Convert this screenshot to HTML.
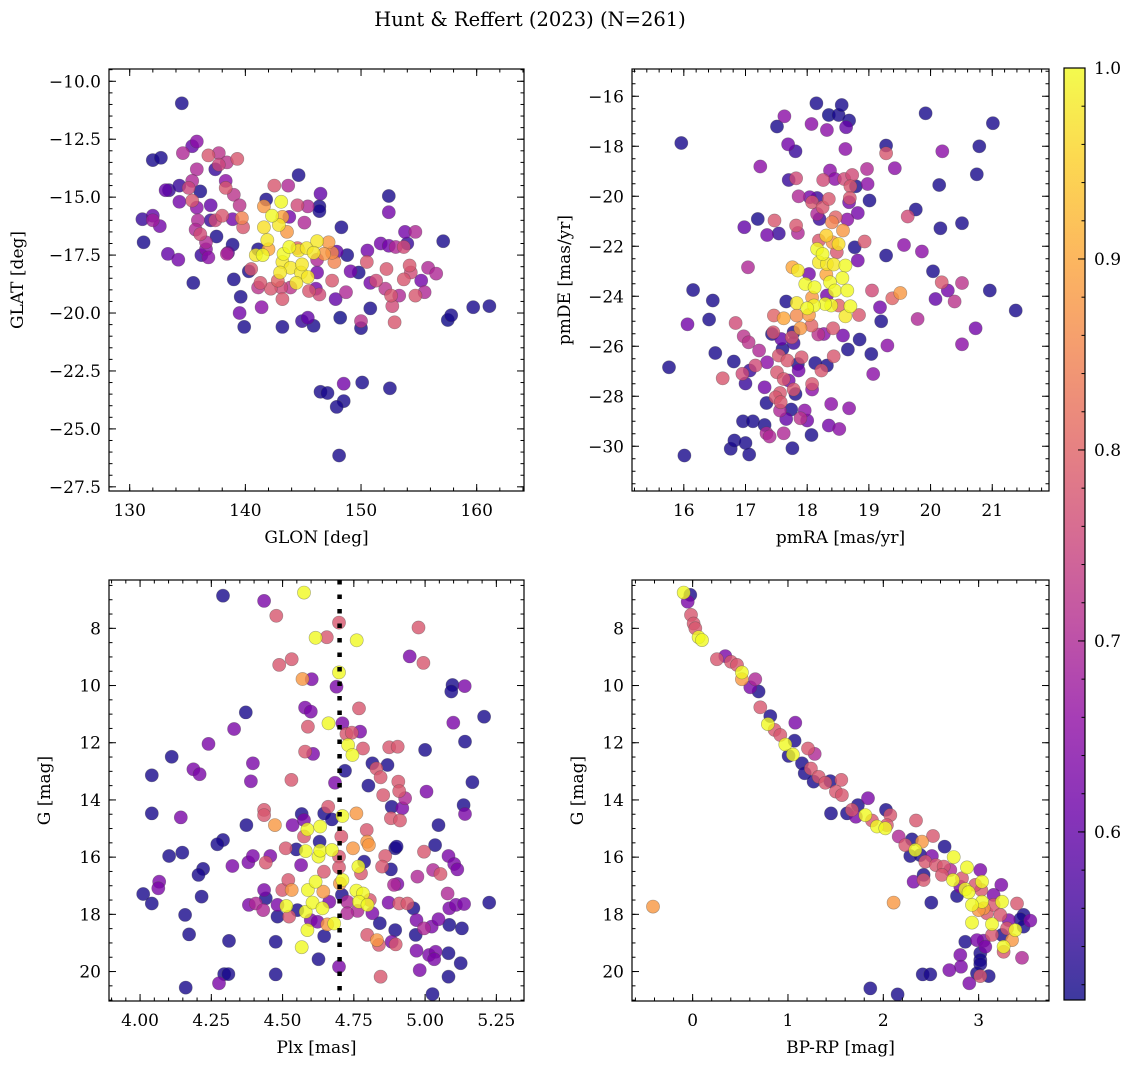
<!DOCTYPE html>
<html><head><meta charset="utf-8"><title>Hunt & Reffert (2023)</title>
<style>
html,body{margin:0;padding:0;background:#fff;}
svg{display:block;font-family:"DejaVu Serif","Liberation Serif",serif;}
</style></head>
<body>
<svg id="fig" width="1136" height="1068" viewBox="0 0 1136 1068" xmlns="http://www.w3.org/2000/svg">
<defs>
<linearGradient id="plasma" x1="0" y1="1" x2="0" y2="0">
<stop offset="0" stop-color="#0d0887"/><stop offset="0.1" stop-color="#41049d"/><stop offset="0.2" stop-color="#6a00a8"/><stop offset="0.3" stop-color="#8f0da4"/><stop offset="0.4" stop-color="#b12a90"/><stop offset="0.5" stop-color="#cc4778"/><stop offset="0.6" stop-color="#e16462"/><stop offset="0.7" stop-color="#f2844b"/><stop offset="0.8" stop-color="#fca636"/><stop offset="0.9" stop-color="#fcce25"/><stop offset="1" stop-color="#f0f921"/>
</linearGradient>
</defs>
<text x="530" y="26" font-size="19.5" text-anchor="middle" fill="#000">Hunt &amp; Reffert (2023) (N=261)</text>
</svg>
<script>
// ---- Panel 1: GLON vs GLAT ----
const glon = [134.5,135.8,135.4,134.6,132.0,132.7,136.8,137.7,137.7,138.4,139.3,135.8,137.4,144.6,135.4,138.3,142.5,143.7,133.1,133.4,134.3,135.1,136.1,138.3,139.0,146.5,152.4,134.3,135.4,137.0,139.5,141.8,143.1,141.6,144.5,145.4,146.4,146.4,152.4,131.1,132.0,132.0,132.6,135.8,135.9,137.0,138.0,137.4,138.9,139.7,139.8,142.3,142.9,143.2,141.6,143.6,143.8,145.1,148.3,135.7,136.1,137.5,136.6,136.6,136.2,136.8,131.2,133.3,134.2,135.5,138.4,138.9,138.5,141.9,142.0,141.1,140.9,141.5,143.3,143.8,144.5,144.6,145.3,146.2,145.9,147.2,147.5,147.9,147.7,148.8,146.8,146.2,150.55,150.5,151.7,152.4,153.0,153.7,154.0,153.8,154.7,157.1,143.2,143.9,143.0,144.8,144.9,145.4,144.4,142.8,143.1,142.2,141.3,140.5,140.3,141.1,143.2,143.9,139.0,139.6,139.5,141.4,139.9,143.2,144.9,145.4,145.9,145.5,146.4,146.1,146.2,147.5,147.8,148.7,148.2,149.1,149.8,150.8,151.3,152.2,152.1,152.6,152.7,153.3,150.8,150.0,150.0,152.9,154.2,154.3,153.7,155.2,155.8,156.5,154.7,155.5,157.5,157.8,159.7,161.1,146.5,147.1,148.5,150.1,152.5,148.5,147.9,148.1];
const glat = [-10.95,-12.6,-12.8,-13.1,-13.4,-13.3,-13.2,-13.1,-13.6,-13.5,-13.35,-13.8,-13.8,-14.05,-14.3,-14.3,-14.5,-14.5,-14.7,-14.7,-14.5,-14.6,-14.75,-14.6,-14.9,-14.85,-14.95,-15.2,-15.15,-15.35,-15.35,-15.1,-15.2,-15.4,-15.35,-15.4,-15.4,-15.6,-15.65,-15.95,-15.8,-16.0,-16.25,-15.45,-16.0,-16.0,-15.8,-16.0,-15.95,-15.9,-16.3,-15.8,-16.2,-15.85,-16.3,-16.5,-15.85,-16.1,-16.3,-16.4,-16.6,-16.7,-16.95,-17.25,-17.5,-17.6,-16.95,-17.45,-17.7,-18.7,-17.45,-17.05,-17.4,-16.85,-17.25,-17.25,-17.5,-17.5,-17.45,-17.15,-17.2,-17.3,-17.2,-16.9,-17.4,-16.95,-17.4,-17.35,-17.8,-17.5,-17.45,-17.7,-17.3,-17.8,-17.0,-17.1,-17.15,-17.15,-17.0,-16.5,-16.5,-16.9,-17.8,-18.05,-18.25,-18.25,-17.9,-18.45,-18.7,-18.6,-18.9,-18.95,-18.7,-18.1,-18.2,-18.9,-19.4,-18.9,-18.55,-19.3,-20.0,-19.75,-20.6,-20.6,-20.35,-20.2,-20.55,-19.05,-19.2,-18.95,-18.25,-18.6,-19.4,-19.1,-20.2,-18.2,-18.25,-18.7,-18.6,-18.1,-18.95,-19.25,-19.7,-19.25,-19.8,-20.35,-20.65,-20.4,-17.95,-18.25,-18.55,-18.6,-18.05,-18.3,-19.25,-19.1,-20.3,-20.1,-19.75,-19.7,-23.4,-23.45,-23.05,-23.0,-23.25,-23.8,-24.05,-26.15];
const prob1 = [.52,.65,.6,.7,.52,.52,.78,.72,.75,.72,.78,.7,.55,.52,.7,.65,.78,.7,.6,.55,.55,.75,.52,.78,.72,.6,.52,.62,.78,.6,.72,.52,1.0,.88,.76,.7,.52,.52,.62,.55,.6,.68,.62,.65,.7,.55,.78,.76,.62,.85,.78,1.0,.98,.9,.97,.88,.62,.7,.52,.7,.76,.52,.7,.65,.55,.65,.52,.6,.62,.52,.7,.52,.6,.98,.9,.52,.98,1.0,1.0,1.0,.8,.98,.98,.98,.98,.88,.86,.6,.85,.52,.88,.7,.62,.78,.62,.62,.7,.76,.55,.62,.7,.52,.98,.98,.98,.98,.98,.98,.98,.8,.76,.78,.78,.78,.52,.72,.78,.72,.52,.52,.62,.65,.52,.52,.55,.6,.52,.78,.76,.62,.62,.78,.6,.7,.5,.62,.52,.62,.76,.78,.72,.78,.76,.7,.52,.72,.52,.78,.78,.76,.78,.62,.7,.7,.78,.7,.5,.52,.52,.52,.52,.52,.62,.52,.52,.52,.52,.52];

// ---- Panel 2: pmRA vs pmDE ----
const pmra = [15.96,16.01,15.76,16.15,16.06,16.47,16.41,16.51,16.63,16.81,16.84,16.76,16.82,17.0,17.06,16.96,17.12,17.0,16.95,17.07,17.16,16.97,17.05,17.22,17.31,17.34,17.31,17.34,17.39,17.04,16.98,17.24,17.2,17.35,17.47,17.54,17.7,17.82,17.69,17.81,17.51,17.63,18.07,18.15,18.32,18.35,18.51,18.56,18.68,18.63,18.62,19.28,19.28,19.92,20.19,20.79,21.01,20.75,20.14,19.42,18.97,18.98,19.01,18.37,18.26,18.45,18.6,18.73,18.7,18.79,17.86,18.04,18.16,18.08,18.25,18.35,18.69,18.68,18.16,18.2,18.46,18.4,18.65,18.82,18.58,17.82,17.85,18.31,18.51,18.41,18.19,18.48,18.16,18.25,18.19,18.32,18.43,18.62,18.31,18.57,17.76,17.85,18.03,17.97,18.12,18.37,18.45,18.65,18.32,18.77,18.82,18.93,19.28,19.57,19.86,19.76,19.63,20.16,20.51,20.04,20.18,20.28,20.08,20.51,20.39,20.96,21.38,20.73,20.51,19.79,19.51,19.38,19.05,19.18,19.2,19.3,19.07,19.04,18.85,18.66,18.58,18.84,18.7,18.62,18.51,18.39,18.29,18.11,18.0,17.83,17.66,18.08,18.03,17.83,17.62,17.46,17.89,18.07,18.42,18.18,18.27,17.78,17.75,17.78,17.43,17.45,17.58,17.6,17.54,17.35,17.68,17.91,17.85,17.86,18.13,18.32,18.23,18.43,17.51,17.62,17.7,17.78,17.81,18.08,18.08,17.56,17.49,17.57,17.56,17.74,17.96,17.66,17.89,18.0,18.39,18.68,18.35,18.52,18.07,17.62,17.76];
const pmde = [-17.87,-30.37,-26.84,-23.75,-25.12,-24.17,-24.93,-26.27,-27.28,-26.61,-25.07,-30.1,-29.77,-29.87,-30.33,-29.0,-29.0,-27.49,-27.1,-26.97,-26.77,-25.6,-25.84,-26.17,-27.64,-28.27,-29.15,-29.48,-29.61,-22.84,-21.24,-18.81,-20.91,-21.55,-20.97,-21.49,-19.35,-19.28,-17.92,-18.2,-17.21,-16.8,-17.11,-16.28,-17.35,-16.75,-16.75,-16.35,-16.97,-17.24,-18.11,-17.97,-18.28,-16.68,-18.2,-18.0,-17.08,-19.12,-19.55,-18.88,-18.91,-19.51,-20.17,-18.97,-19.35,-19.31,-19.31,-19.15,-19.6,-19.6,-20.0,-20.04,-20.07,-20.24,-20.44,-20.11,-20.07,-20.24,-20.71,-20.91,-20.84,-21.04,-20.93,-20.67,-21.37,-21.17,-21.47,-21.57,-21.91,-21.84,-21.77,-22.24,-22.11,-22.31,-22.64,-22.71,-22.73,-22.77,-23.13,-23.27,-22.84,-22.97,-23.11,-23.51,-23.64,-23.44,-23.77,-23.77,-23.97,-22.04,-22.57,-21.81,-22.37,-21.95,-22.21,-20.53,-20.81,-21.28,-21.08,-23.0,-23.44,-23.77,-24.11,-23.47,-24.21,-23.77,-24.57,-25.28,-25.92,-24.91,-23.87,-24.08,-23.77,-24.44,-25.0,-25.97,-27.11,-26.31,-25.73,-26.13,-25.57,-24.75,-24.4,-24.8,-24.37,-24.37,-24.31,-24.37,-24.48,-24.27,-24.21,-24.05,-24.75,-24.77,-24.88,-24.77,-25.28,-25.17,-25.28,-25.53,-25.51,-25.44,-25.64,-25.87,-25.51,-25.44,-25.71,-26.11,-26.37,-26.64,-26.57,-26.44,-26.71,-26.97,-26.67,-26.77,-26.97,-26.4,-27.04,-27.31,-27.37,-27.73,-27.91,-27.51,-27.73,-27.87,-28.04,-28.24,-28.57,-28.53,-28.57,-28.91,-28.88,-28.97,-28.31,-28.48,-29.17,-29.31,-29.55,-29.48,-30.08];
const prob2 = [.52,.52,.52,.52,.62,.52,.52,.52,.78,.52,.76,.52,.52,.52,.52,.52,.52,.55,.76,.55,.76,.72,.72,.7,.62,.52,.52,.7,.7,.7,.6,.65,.52,.62,.78,.55,.55,.76,.62,.55,.52,.65,.65,.52,.65,.5,.52,.52,.52,.6,.65,.52,.78,.52,.65,.52,.52,.52,.52,.65,.7,.65,.52,.65,.76,.65,.76,.76,.78,.52,.7,.62,.55,.78,.78,.78,.78,.62,.7,.55,.8,.85,.65,.62,.88,.78,.7,.95,.97,.88,.78,.78,1,1,.98,.98,.98,1,.9,1,.9,.98,.62,1,1,1,1,1,.62,.52,.62,.78,.52,.65,.65,.52,.76,.52,.52,.52,.78,.62,.6,.72,.72,.52,.52,.62,.65,.7,.88,.8,.76,.62,.52,.65,.65,.52,.52,.52,.62,.78,1,.98,.8,1,1,1,1,.98,.52,.88,.88,.86,.9,.8,.88,.8,.78,.72,.65,.52,.78,.55,.52,.78,.6,.52,.78,.65,.78,.78,.52,.62,.52,.52,.78,.78,.78,.78,.62,.78,.52,.78,.65,.78,.78,.78,.7,.52,.65,.6,.72,.62,.65,.65,.62,.65,.52,.7,.52];

// ---- Panel 3: Plx vs G ----
const plx = [4.291,4.435,4.478,4.575,4.698,4.616,4.655,4.76,4.977,4.946,4.994,4.488,4.532,4.698,4.57,4.602,4.689,5.096,5.139,5.092,4.371,4.579,4.599,4.768,5.207,4.33,4.589,4.661,4.71,4.724,4.743,4.772,5.099,4.24,4.73,4.782,4.745,4.579,4.607,4.874,4.904,5.0,5.14,4.111,4.396,4.187,4.209,4.041,4.531,4.389,4.719,4.684,4.815,4.868,4.829,4.844,4.801,4.853,4.906,4.909,4.93,5.005,5.166,4.041,4.143,4.373,4.435,4.435,4.473,4.535,4.567,4.575,4.587,4.632,4.646,4.66,4.673,4.71,4.759,4.795,4.883,4.92,4.88,4.912,5.047,5.135,5.14,4.291,4.271,4.102,4.148,4.221,4.205,4.324,4.38,4.396,4.441,4.457,4.511,4.548,4.575,4.581,4.63,4.626,4.632,4.673,4.698,4.706,4.747,4.797,4.803,4.786,4.766,4.775,4.565,4.645,4.698,4.86,4.849,4.895,4.9,4.88,4.996,5.035,5.082,5.102,5.113,5.028,5.054,4.973,4.903,4.891,4.067,4.064,4.011,4.041,4.216,4.158,4.172,4.312,4.295,4.31,4.277,4.16,4.476,4.476,4.382,4.406,4.432,4.435,4.441,4.482,4.482,4.499,4.52,4.532,4.523,4.513,4.552,4.581,4.589,4.616,4.605,4.643,4.64,4.664,4.587,4.567,4.599,4.623,4.657,4.681,4.646,4.626,4.698,4.71,4.701,4.708,4.727,4.759,4.782,4.768,4.798,4.806,4.815,4.797,4.831,4.838,4.763,4.727,4.841,4.872,4.909,4.938,4.959,4.97,4.967,4.996,5.023,5.047,5.085,5.085,5.079,5.108,5.137,5.129,5.225,4.895,4.883,4.897,4.97,5.014,5.037,5.032,5.082,5.125,4.981,5.082,4.844,5.026];
const gmag3 = [6.86,7.04,7.56,6.75,7.8,8.33,8.31,8.42,7.97,8.98,9.21,9.28,9.08,9.54,9.77,9.78,10.04,9.98,10.02,10.21,10.94,10.77,10.91,10.8,11.09,11.52,11.44,11.32,11.32,11.69,11.65,11.61,11.3,12.04,12.08,12.2,12.43,12.31,12.39,12.16,12.14,12.25,11.96,12.49,12.72,12.93,13.1,13.14,13.3,13.35,12.98,13.4,12.72,12.78,12.9,13.21,13.5,13.83,13.36,13.69,13.94,13.71,13.38,14.47,14.61,14.88,14.35,14.53,14.88,14.88,14.49,14.7,15.03,14.93,14.47,14.24,14.68,14.56,14.47,15.05,14.24,14.29,14.64,14.72,14.88,14.18,14.49,15.4,15.55,15.96,15.84,16.41,16.62,16.31,16.18,15.96,16.19,15.96,15.69,15.73,15.28,15.79,15.46,15.98,15.77,15.75,15.98,15.28,15.69,15.46,15.58,16.16,16.33,16.57,16.28,16.51,16.36,15.96,16.33,15.69,15.63,16.43,15.81,15.58,15.96,16.24,16.43,16.45,16.59,16.68,16.94,16.97,16.86,17.09,17.29,17.62,17.38,18.02,18.7,18.93,20.09,20.09,20.41,20.56,20.1,18.96,17.67,17.62,17.85,17.15,17.44,17.67,18.08,17.15,16.8,17.15,18.08,17.71,17.85,17.91,17.15,16.86,17.59,17.21,17.79,17.56,18.55,19.15,18.2,18.26,18.35,18.32,18.76,19.57,19.83,16.8,16.92,17.32,17.56,17.17,17.27,17.56,17.67,17.5,17.96,18.72,18.9,19.07,17.88,17.96,18.31,17.59,17.62,17.62,17.79,18.2,18.72,18.49,18.43,18.17,18.37,17.79,17.27,17.67,17.64,18.49,17.59,18.55,18.96,19.05,19.27,19.42,19.31,19.57,19.36,19.71,19.95,20.18,20.18,20.79];
const prob3 = [.52,.63,.78,1,.78,1,.78,1,.78,.63,.78,.78,.78,1,.88,.63,.63,.52,.63,.52,.52,.63,.63,.78,.52,.63,.78,1,.63,.78,.78,.63,.63,.63,1,.78,1,.78,.63,.78,.78,.52,.52,.52,.63,.63,.63,.52,.78,.63,.52,.63,.52,.52,.78,.78,.52,.78,.78,.78,.7,.63,.52,.52,.63,.52,.78,.78,.88,.63,.52,.63,1,1,.52,.78,.52,1,.88,.78,.52,.63,.78,.78,.52,.52,.63,.52,.52,.52,.52,.52,.52,.63,.63,.63,.78,.63,.78,.52,.78,1,.52,1,1,1,.78,.78,.88,.88,.88,.52,1,.78,.63,.78,.78,.78,.78,.52,.52,.52,.78,.52,.63,.63,.63,.7,.78,.7,.63,.7,.63,.63,.52,.52,.52,.52,.52,.52,.52,.52,.63,.52,.52,.52,.63,.7,.7,.63,.52,.63,.52,.78,.78,.88,.78,1,.52,1,1,1,1,.88,1,.63,1,1,.63,.63,.88,1,.52,.52,.63,1,.88,.52,.7,1,1,1,1,.78,.63,.78,.88,.78,.7,.7,.52,.63,.78,.78,.52,.63,.52,.7,.63,.63,.52,.63,.7,.63,.63,.52,.52,.52,.63,.78,.63,.63,.63,.63,.52,.52,.63,.52,.78,.52];
const plxRef = [4.70];

// ---- Panel 4: BP-RP vs G ----
const bprp = [-0.094,-0.024,-0.052,-0.017,0.01,0.028,0.063,0.098,0.255,0.343,0.402,0.465,0.517,0.517,0.657,0.605,0.692,0.71,0.815,0.79,1.077,0.86,0.92,0.972,1.07,1.007,1.052,1.21,1.28,1.147,1.241,1.175,1.269,1.322,1.392,1.444,1.559,1.503,1.566,1.451,1.619,1.671,1.734,1.839,1.713,1.811,1.881,1.934,2.021,2.028,2.073,2.038,2.343,2.161,2.301,2.406,2.336,2.231,2.283,2.388,2.521,2.51,2.441,2.552,2.643,2.633,2.738,2.703,2.318,2.423,2.423,2.615,2.731,2.825,2.878,3.017,2.86,2.895,2.773,2.808,3.035,3.028,2.965,3.238,3.157,3.245,3.402,3.035,2.93,3.052,3.0,3.087,3.157,3.227,2.93,3.14,3.315,3.472,3.542,3.437,3.385,3.297,3.472,3.14,3.245,3.35,3.262,3.262,3.455,3.052,2.983,2.86,3.07,3.017,3.017,3.017,2.808,2.815,2.692,3.017,3.105,2.902,2.983,2.413,2.493,2.503,2.108,1.864,2.15,-0.416];
const gmag4 = [6.75,6.83,7.07,7.53,7.83,8.0,8.31,8.41,9.08,8.97,9.17,9.28,9.54,9.78,9.78,10.06,10.21,10.76,11.07,11.35,11.3,11.55,11.73,12.06,11.93,12.46,12.41,12.2,12.39,12.72,12.9,13.07,13.36,13.19,13.4,13.34,13.3,13.71,13.83,14.47,14.47,14.35,14.18,13.94,14.59,14.53,14.72,14.93,14.99,14.35,14.53,14.88,14.72,15.28,15.38,15.46,15.75,15.58,15.96,15.93,15.26,15.96,16.16,16.28,15.63,16.33,16.0,16.45,16.86,16.62,16.8,16.62,16.8,16.74,16.36,16.45,17.12,17.23,17.36,17.03,16.86,17.15,16.97,16.97,17.32,17.56,17.62,17.56,17.67,17.79,17.85,17.96,17.67,18.02,18.29,18.34,18.2,18.02,18.22,18.17,18.55,18.49,18.43,18.72,18.72,18.9,19.13,19.31,19.52,18.92,18.9,18.96,19.13,19.36,19.6,19.74,19.42,19.83,19.95,20.16,20.16,20.41,20.06,20.1,20.1,17.59,17.59,20.59,20.8,17.73];
const prob4 = [1,.52,.63,.78,.78,.78,1,1,.78,.63,.78,.78,1,.88,.7,.63,.52,.78,.52,1,.63,.78,.78,1,.52,.52,1,.78,.7,.52,.78,.52,.52,.78,.78,.52,.78,.78,.78,.52,.52,.78,.52,.63,.63,1,.78,1,1,.52,.78,.78,.78,.7,.52,.88,1,.78,.52,.52,.78,.63,.78,.78,.52,.78,1,.7,.63,.52,.78,.78,1,.78,1,.63,1,1,.52,.63,1,.78,.78,.63,.63,1,.78,1,1,.88,.88,.78,.78,.78,1,1,.63,.52,.63,.52,1,.78,.52,.78,.52,.88,1,.78,.7,.63,.63,.52,.63,.52,.52,.52,.63,.63,.63,.78,.52,.63,.52,.52,.52,.52,.88,.52,.52,.88];

// ---- Colorbar ----
const cbTicks = [0.6,0.7,0.8,0.9,1.0];
const cbMin = 0.512, cbMax = 1.0;

const NS = 'http://www.w3.org/2000/svg';
const svg = document.getElementById('fig');
function el(tag, attrs, parent){ const e=document.createElementNS(NS,tag); for(const k in attrs) e.setAttribute(k,attrs[k]); (parent||svg).appendChild(e); return e; }

const stops=[[13,8,135],[65,4,157],[106,0,168],[143,13,164],[177,42,144],[204,71,120],[225,100,98],[242,132,75],[252,166,54],[252,206,37],[240,249,33]];
function plasma(v){
  let t=(v-cbMin)/(cbMax-cbMin); t=Math.max(0,Math.min(1,t));
  const f=t*10, i=Math.min(9,Math.floor(f)), r=f-i;
  const a=stops[i], b=stops[i+1];
  return 'rgb('+[0,1,2].map(k=>Math.round(a[k]+(b[k]-a[k])*r)).join(',')+')';
}
function fmt(v,d){ const s=Math.abs(v).toFixed(d); return (v<-1e-9?'\u2212':'')+s; }
const FS = 17;

function panel(cfg){
  const {name,x0,x1,y0,y1,xd,yd,xs,ys,xMaj,xMin,yMaj,yMin,xDec,yDec,xlab,ylab,ylabX} = cfg;
  const g = el('g',{});
  
  
  const sx = v => x0 + (v-xd[0])/(xd[1]-xd[0])*(x1-x0);
  const sy = v => y0 + (v-yd[0])/(yd[1]-yd[0])*(y1-y0);
  const n=Math.min(xs.length,ys.length,cfg.ps.length);
  const idx=[...Array(n).keys()].sort((a,b)=>cfg.ps[a]-cfg.ps[b]);
  const pg = el('g',{},g);
  
  
  for(const i of idx){
    const c = el('circle',{cx:sx(xs[i]).toFixed(1),cy:sy(ys[i]).toFixed(1),r:6.6,fill:plasma(cfg.ps[i]),'fill-opacity':0.8,stroke:'rgba(70,70,70,0.45)','stroke-width':0.6},pg);
    
    
  }
  if(cfg.after) cfg.after(g,sx,sy);
  const fr = el('rect',{x:x0,y:y0,width:x1-x0,height:y1-y0,fill:'none',stroke:'#000','stroke-width':1.2},g);
  
  
  function ticksFor(lo,hi,step){ const a=Math.min(lo,hi),b=Math.max(lo,hi); const out=[]; for(let k=Math.ceil(a/step-1e-6);k*step<=b+1e-9;k++) out.push(+(k*step).toFixed(6)); return out; }
  const tg = el('g',{stroke:'#000','stroke-width':1},g);
  
  
  for(const v of ticksFor(xd[0],xd[1],xMin)){ const X=sx(v); el('line',{x1:X,y1:y1,x2:X,y2:y1-3.5},tg); el('line',{x1:X,y1:y0,x2:X,y2:y0+3.5},tg); }
  for(const v of ticksFor(yd[0],yd[1],yMin)){ const Y=sy(v); el('line',{x1:x0,y1:Y,x2:x0+3.5,y2:Y},tg); el('line',{x1:x1,y1:Y,x2:x1-3.5,y2:Y},tg); }
  for(const v of ticksFor(xd[0],xd[1],xMaj)){ const X=sx(v); el('line',{x1:X,y1:y1,x2:X,y2:y1-7},tg); el('line',{x1:X,y1:y0,x2:X,y2:y0+7},tg);
    const t=el('text',{x:X,y:y1+25,'font-size':FS,'text-anchor':'middle',fill:'#000'},g); t.textContent=fmt(v,xDec);
    
     }
  for(const v of ticksFor(yd[0],yd[1],yMaj)){ const Y=sy(v); el('line',{x1:x0,y1:Y,x2:x0+7,y2:Y},tg); el('line',{x1:x1,y1:Y,x2:x1-7,y2:Y},tg);
    const t=el('text',{x:x0-8,y:Y+6,'font-size':FS,'text-anchor':'end',fill:'#000'},g); t.textContent=fmt(v,yDec);
    
     }
  const xl=el('text',{x:(x0+x1)/2,y:y1+52,'font-size':FS,'text-anchor':'middle',fill:'#000'},g); xl.textContent=xlab;
  
  
  const yc=(y0+y1)/2;
  const yl=el('text',{x:ylabX,y:yc,'font-size':FS,'text-anchor':'middle',fill:'#000',transform:'rotate(-90 '+ylabX+' '+yc+')'},g); yl.textContent=ylab;
  
  
}

panel({name:'glon-glat-panel',x0:109,x1:524,y0:69,y1:491,xd:[128.21,164.09],yd:[-9.47,-27.68],xs:glon,ys:glat,ps:prob1,xMaj:10,xMin:2,yMaj:2.5,yMin:0.5,xDec:0,yDec:1,xlab:'GLON [deg]',ylab:'GLAT [deg]',ylabX:23});
panel({name:'pm-panel',x0:632,x1:1049,y0:69,y1:491,xd:[15.16,21.92],yd:[-14.91,-31.79],xs:pmra,ys:pmde,ps:prob2,xMaj:1,xMin:0.2,yMaj:2,yMin:0.5,xDec:0,yDec:0,xlab:'pmRA [mas/yr]',ylab:'pmDE [mas/yr]',ylabX:570});
panel({name:'plx-g-panel',x0:109,x1:524,y0:580,y1:1001,xd:[3.891,5.347],yd:[6.31,21.03],xs:plx,ys:gmag3,ps:prob3,xMaj:0.25,xMin:0.05,yMaj:2,yMin:0.5,xDec:2,yDec:0,xlab:'Plx [mas]',ylab:'G [mag]',ylabX:50,
  after:(g,sx,sy)=>{ for(const v of plxRef){ const ln=el('line',{x1:sx(v),x2:sx(v),y1:580,y2:1001,stroke:'#000','stroke-width':4.5,'stroke-dasharray':'4.5 10'},g);
    
     } }});
panel({name:'cmd-panel',x0:632,x1:1049,y0:580,y1:1001,xd:[-0.636,3.738],yd:[6.31,21.03],xs:bprp,ys:gmag4,ps:prob4,xMaj:1,xMin:0.2,yMaj:2,yMin:0.5,xDec:0,yDec:0,xlab:'BP-RP [mag]',ylab:'G [mag]',ylabX:583});

(function(){
  const cx0=1064,cx1=1085,cy0=68,cy1=1000;
  const g=el('g',{});
  
  
  el('rect',{x:cx0,y:cy0,width:cx1-cx0,height:cy1-cy0,fill:'url(#plasma)','fill-opacity':0.8},g);
  el('rect',{x:cx0,y:cy0,width:cx1-cx0,height:cy1-cy0,fill:'none',stroke:'#000','stroke-width':1.2},g);
  const sy=v=>cy1-(v-cbMin)/(cbMax-cbMin)*(cy1-cy0);
  for(let k=Math.ceil(cbMin/0.02);k*0.02<=cbMax+1e-9;k++){ const Y=sy(k*0.02); el('line',{x1:cx1,x2:cx1-3.5,y1:Y,y2:Y,stroke:'#000','stroke-width':1},g); }
  for(const v of cbTicks){ const Y=sy(v); el('line',{x1:cx1,x2:cx1-7,y1:Y,y2:Y,stroke:'#000','stroke-width':1},g);
    const t=el('text',{x:cx1+9,y:Y+6,'font-size':FS,fill:'#000'},g); t.textContent=v.toFixed(1);
    
     }
})();
</script>
</body></html>
